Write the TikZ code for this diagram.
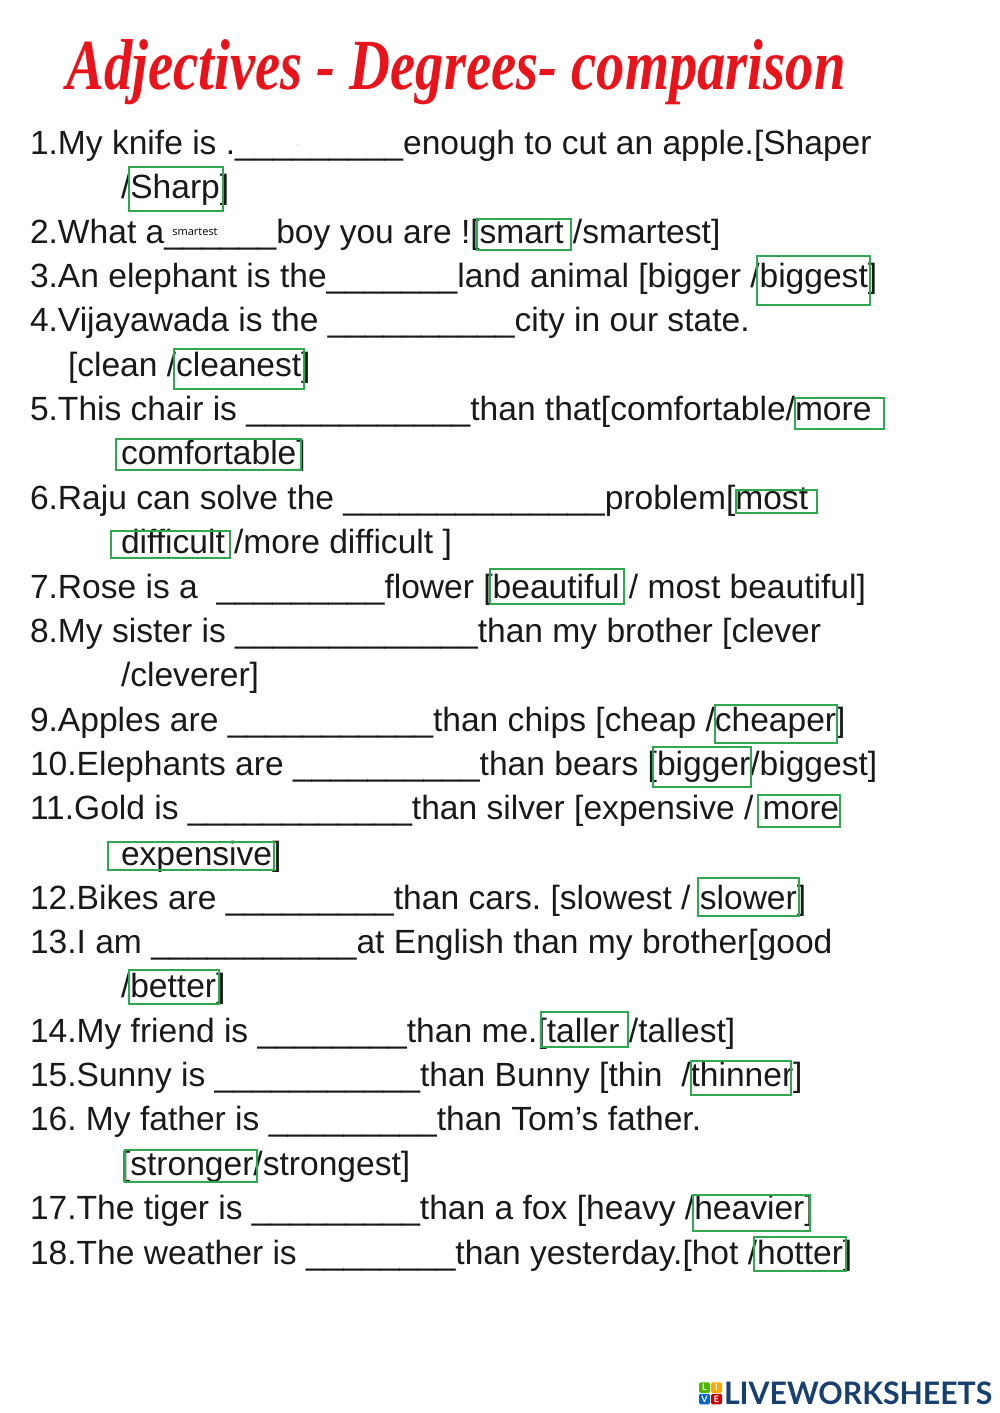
\documentclass[tikz,border=0pt]{standalone}
\usepackage{fontspec}
\setmainfont{Liberation Sans}
\newfontfamily\titlefont{Liberation Serif}
\newfontfamily\logofont{Lato}
\newfontfamily\inputfont{Open Sans}
\usetikzlibrary{positioning}
\definecolor{titlered}{HTML}{E8141C}
\definecolor{answergreen}{HTML}{2FA84F}
\definecolor{logoblue}{HTML}{17406F}
\frenchspacing

\begin{document}
\begin{tikzpicture}[
    x=1pt, y=-1pt,
    every node/.style={inner sep=0pt, outer sep=0pt},
    txt/.style={anchor=base west, text=black!90, font=\fontsize{33.57}{40}\selectfont},
    answer/.style={draw=answergreen, line width=2.8pt},
    typed/.style={font=\inputfont\fontsize{11}{12}\selectfont},
    tile/.style={minimum width=11pt, minimum height=10.5pt, rounded corners=1.5pt, text=white, font=\logofont\bfseries\fontsize{9}{10}\selectfont}
]
    \useasboundingbox (0,0) rectangle (1000,1413);

    % Title
    \node (title) [anchor=base, xscale=0.787, transform shape, text=titlered, font=\titlefont\bfseries\itshape\fontsize{72}{80}\selectfont] at (456,89) {Adjectives - Degrees- comparison};

    % Questions
    \node (q1)   [txt] at (30,154.5)  {1.My knife is .\_\_\_\_\_\_\_\_\_enough to cut an apple.[Shaper};
    \node (q1b)  [txt] at (121,198.5) {/Sharp]};
    \node (q2)   [txt] at (30,243.5)  {2.What a\_\_\_\_\_\_boy you are ![smart /smartest]};
    \node (q3)   [txt] at (30,287.5)  {3.An elephant is the\_\_\_\_\_\_\_land animal [bigger /biggest]};
    \node (q4)   [txt] at (30,331.5)  {4.Vijayawada is the \_\_\_\_\_\_\_\_\_\_city in our state.};
    \node (q4b)  [txt] at (68,376.5)  {[clean /cleanest]};
    \node (q5)   [txt] at (30,420.5)  {5.This chair is \_\_\_\_\_\_\_\_\_\_\_\_than that[comfortable/more};
    \node (q5b)  [txt] at (121,464.5) {comfortable]};
    \node (q6)   [txt] at (30,509.5)  {6.Raju can solve the \_\_\_\_\_\_\_\_\_\_\_\_\_\_problem[most};
    \node (q6b)  [txt] at (121,553.5) {difficult /more difficult ]};
    \node (q7)   [txt] at (30,598.5)  {7.Rose is a \ \_\_\_\_\_\_\_\_\_flower [beautiful / most beautiful]};
    \node (q8)   [txt] at (30,642.5)  {8.My sister is \_\_\_\_\_\_\_\_\_\_\_\_\_than my brother [clever};
    \node (q8b)  [txt] at (121,686.5) {/cleverer]};
    \node (q9)   [txt] at (30,731.5)  {9.Apples are \_\_\_\_\_\_\_\_\_\_\_than chips [cheap /cheaper]};
    \node (q10)  [txt] at (30,775.5)  {10.Elephants are \_\_\_\_\_\_\_\_\_\_than bears [bigger/biggest]};
    \node (q11)  [txt] at (30,819.5)  {11.Gold is \_\_\_\_\_\_\_\_\_\_\_\_than silver [expensive / more};
    \node (q11b) [txt] at (121,865.5) {expensive]};
    \node (q12)  [txt] at (30,909.5)  {12.Bikes are \_\_\_\_\_\_\_\_\_than cars. [slowest / slower]};
    \node (q13)  [txt] at (30,953.5)  {13.I am \_\_\_\_\_\_\_\_\_\_\_at English than my brother[good};
    \node (q13b) [txt] at (121,997.5) {/better]};
    \node (q14)  [txt] at (30,1042.5) {14.My friend is \_\_\_\_\_\_\_\_than me.[taller /tallest]};
    \node (q15)  [txt] at (30,1086.5) {15.Sunny is \_\_\_\_\_\_\_\_\_\_\_than Bunny [thin \ /thinner]};
    \node (q16)  [txt] at (30,1130.5) {16. My father is \_\_\_\_\_\_\_\_\_than Tom’s father.};
    \node (q16b) [txt] at (121,1175.5) {[stronger/strongest]};
    \node (q17)  [txt] at (30,1219.5) {17.The tiger is \_\_\_\_\_\_\_\_\_than a fox [heavy /heavier]};
    \node (q18)  [txt] at (30,1264.5) {18.The weather is \_\_\_\_\_\_\_\_than yesterday.[hot /hotter]};

    % Typed answers
    \node (dot1)  [typed, font=\inputfont\fontsize{4}{5}\selectfont] at (298,145) {.};
    \node (typed2) [typed] at (195,232) {smartest};

    % Answer boxes
    \draw [answer] (129,167) rectangle (223,211);
    \draw [answer] (477,219) rectangle (571,250);
    \draw [answer] (757,256) rectangle (870,305);
    \draw [answer] (174,349) rectangle (304,389);
    \draw [answer] (795,398) rectangle (884,429);
    \draw [answer] (116,439) rectangle (301,470);
    \draw [answer] (736,490) rectangle (817,513);
    \draw [answer] (111,531) rectangle (230,558);
    \draw [answer] (490,569) rectangle (624,604);
    \draw [answer] (715,705) rectangle (837,743);
    \draw [answer] (653,747) rectangle (751,787);
    \draw [answer] (758,795) rectangle (840,827);
    \draw [answer] (108,842) rectangle (274,870);
    \draw [answer] (698,878) rectangle (799,916);
    \draw [answer] (129,970) rectangle (219,1004);
    \draw [answer] (541,1012) rectangle (628,1047);
    \draw [answer] (691,1061) rectangle (791,1095);
    \draw [answer] (125,1150) rectangle (257,1182);
    \draw [answer] (693,1195) rectangle (810,1231);
    \draw [answer] (754,1237) rectangle (846,1271);

    % Logo
    \node (tileL) [tile, fill=green!60!black!70!yellow] at (704.5,1387.5) {L};
    \node (tileI) [tile, fill=orange!70!yellow] at (716.5,1387.5) {I};
    \node (tileV) [tile, fill=blue!50!cyan!80!black] at (704.5,1399) {V};
    \node (tileE) [tile, fill=red!80!black] at (716.5,1399) {E};
    \node (logo) [anchor=base west, xscale=0.975, transform shape, text=logoblue, font=\logofont\bfseries\fontsize{31}{36}\selectfont] at (724,1404) {LIVEWORKSHEETS};
\end{tikzpicture}
\end{document}
